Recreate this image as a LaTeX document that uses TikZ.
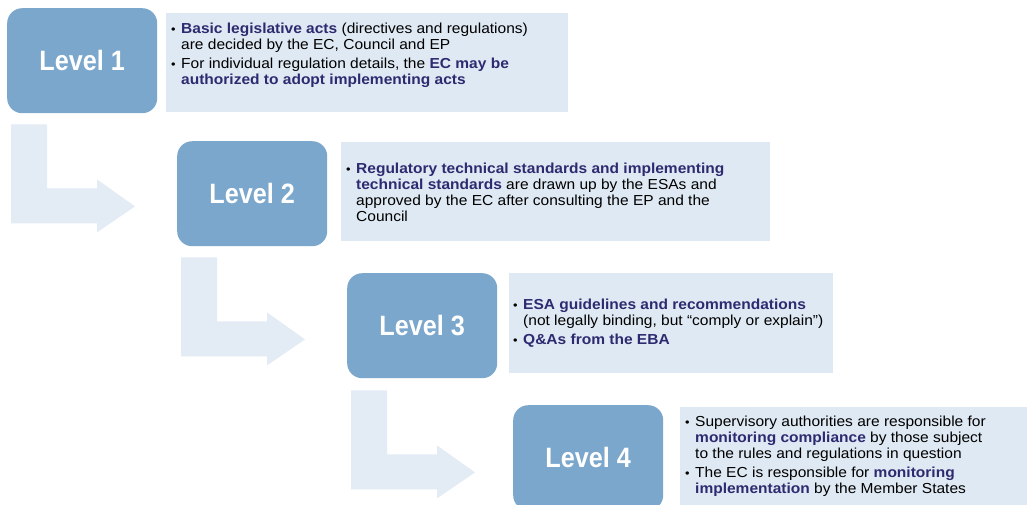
\documentclass[tikz,border=0pt]{standalone}
\usepackage{fontspec}
\setmainfont{Liberation Sans}[FakeStretch=1.07]
\newfontfamily\lvfont{Liberation Sans}[FakeStretch=0.9]
\usetikzlibrary{calc}
\definecolor{lvblue}{HTML}{7BA7CC}
\definecolor{tboxc}{HTML}{DFE9F3}
\definecolor{arrc}{HTML}{E3ECF5}
\definecolor{navy}{HTML}{2E2A70}
\newcommand\bodyfont{\fontsize{14.5}{16}\selectfont}
\newcommand\bul{{\fontsize{12}{12}\selectfont\textbullet}}
\newcommand\bitem[1]{\par\noindent\hangindent=10pt\hangafter=1\makebox[10pt][l]{\bul}#1}
\newcommand\hl[1]{\textbf{\color{navy}#1}}
\newcommand\isep{\par\vspace{3pt}}
\newcommand\txt[1]{\parbox[t]{560pt}{\raggedright\bodyfont #1}}
\tikzset{
  lvl/.style={draw=none, fill=lvblue, rounded corners=15pt, minimum width=150pt,
    minimum height=105pt, anchor=north west, text=white,
    font=\lvfont\fontsize{28}{28}\selectfont\bfseries},
  tbox/.style={draw=none, fill=tboxc, anchor=north west, inner sep=0pt},
  txtnode/.style={anchor=base west, inner sep=0pt, text=black},
  bentarrow/.pic={\fill[arrc] (0,0) -- (36,0) -- (36,64) -- (86,64) -- (86,55)
    -- (124,82) -- (86,108) -- (86,99) -- (0,99) -- cycle;}
}
\begin{document}
\begin{tikzpicture}[x=1pt, y=-1pt]
\useasboundingbox (0,0) rectangle (1032,504);
\clip (0,0) rectangle (1032,504);
\fill[white] (0,0) rectangle (1032,504);
% level boxes
\node[lvl] (L1) at (7,8) {Level 1};
\node[lvl] (L2) at (177,141) {Level 2};
\node[lvl] (L3) at (347,273) {Level 3};
\node[lvl] (L4) at (513,405) {Level 4};
% bent arrows
\pic at ($(L1.south west)+(4,11)$) {bentarrow};
\pic at ($(L2.south west)+(4,11)$) {bentarrow};
\pic at ($(L3.south west)+(4,12)$) {bentarrow};
% text boxes
\node[tbox, minimum width=402pt, minimum height=99pt] (T1) at (166,13) {};
\node[tbox, minimum width=429pt, minimum height=99pt] (T2) at (341,142) {};
\node[tbox, minimum width=324pt, minimum height=100pt] (T3) at (509,273) {};
\node[tbox, minimum width=347pt, minimum height=100pt] (T4) at (680,407) {};
% texts
\node[txtnode] (X1) at (171,33.5) {\txt{%
  \bitem{\hl{Basic legislative acts} (directives and regulations)\newline are decided by the EC, Council and EP}\isep
  \bitem{For individual regulation details, the \hl{EC may be}\newline \hl{authorized to adopt implementing acts}}}};
\node[txtnode] (X2) at (346,173) {\txt{%
  \bitem{\hl{Regulatory technical standards and implementing}\newline \hl{technical standards} are drawn up by the ESAs and\newline approved by the EC after consulting the EP and the\newline Council}}};
\node[txtnode] (X3) at (513,309) {\txt{%
  \bitem{\hl{ESA guidelines and recommendations}\newline (not legally binding, but “comply or explain”)}\isep
  \bitem{\hl{Q\&As from the EBA}}}};
\node[txtnode] (X4) at (685,426) {\txt{%
  \bitem{Supervisory authorities are responsible for\newline \hl{monitoring compliance} by those subject\newline to the rules and regulations in question}\isep
  \bitem{The EC is responsible for \hl{monitoring}\newline \hl{implementation} by the Member States}}};
\end{tikzpicture}
\end{document}
